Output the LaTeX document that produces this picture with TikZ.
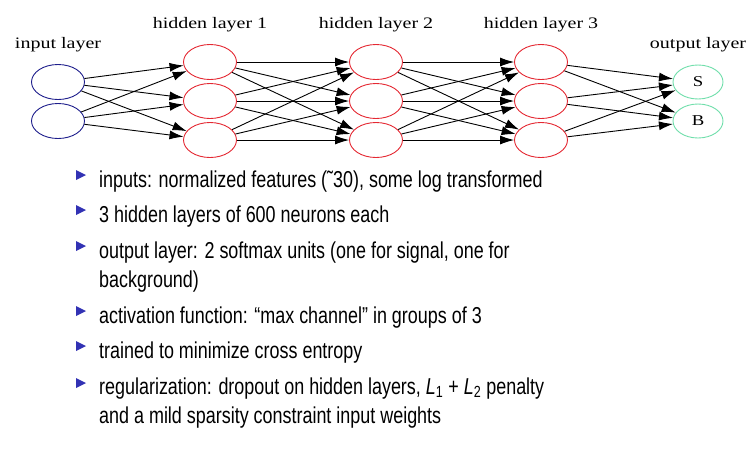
\documentclass[tikz,border=0pt]{standalone}
\usepackage{fontspec}
\setmainfont{Liberation Sans}[FakeStretch=0.78]
\newfontfamily\labelfont{Liberation Serif}[FakeStretch=1.25]
\usetikzlibrary{shapes.geometric,arrows.meta}

\definecolor{inblue}{RGB}{30,30,140}
\definecolor{hidred}{RGB}{228,40,50}
\definecolor{outgreen}{RGB}{110,222,170}
\definecolor{bulletblue}{RGB}{50,50,180}

\tikzset{
  neuron/.style={ellipse,draw,line width=0.9pt,minimum width=53pt,minimum height=35pt,inner sep=0pt,
    font=\labelfont\fontsize{15}{15}\selectfont},
  synapse/.style={-{Latex[length=14pt,width=9pt]},line width=0.9pt},
  layername/.style={font=\labelfont\fontsize{16}{16}\selectfont,anchor=base,inner sep=0pt},
  itemtext/.style={anchor=base west,font=\fontsize{23}{29}\selectfont,inner sep=0pt,align=left}
}

\begin{document}
\begin{tikzpicture}[x=1pt,y=-1pt]
		\useasboundingbox (0,0) rectangle (756,461);
		% layers
		\node[neuron,draw=inblue] (I1) at (58,82) {};
		\node[neuron,draw=inblue] (I2) at (58,121) {};
		\foreach \l/\x in {1/210,2/376,3/541}
		\foreach \n/\y in {1/62,2/101,3/140}
		\node[neuron,draw=hidred] (H\l\n) at (\x,\y) {};
		\node[neuron,draw=outgreen,minimum width=50pt,minimum height=34pt] (O1) at (698,82) {S};
		\node[neuron,draw=outgreen,minimum width=50pt,minimum height=34pt] (O2) at (698,121) {B};

		\node[layername] (Lin) at (58,48) {input layer};
		\node[layername] (Lh1) at (210,28) {hidden layer 1};
		\node[layername] (Lh2) at (376,28) {hidden layer 2};
		\node[layername] (Lh3) at (541,28) {hidden layer 3};
		\node[layername] (Lout) at (698,48) {output layer};

		% connections
		\foreach \i in {1,2}
		\foreach \j in {1,2,3}
		\draw[synapse] (I\i) -- (H1\j);
		\foreach \l/\m in {1/2,2/3}
		\foreach \i in {1,2,3}
		\foreach \j in {1,2,3}
		\draw[synapse] (H\l\i) -- (H\m\j);
		\foreach \i in {1,2,3}
		\foreach \j in {1,2}
		\draw[synapse] (H3\i) -- (O\j);

		% bullet list (two-line items sit on their last baseline)
		\foreach \y in {187,222,258,323,358,395}
		\fill[bulletblue] (76,\y-17) -- (86,\y-12) -- (76,\y-7) -- cycle;
		\node[itemtext] (T1) at (99,187) {inputs: normalized features (˜30), some log transformed};
		\node[itemtext] (T2) at (99,222) {3 hidden layers of 600 neurons each};
		\node[itemtext] (T3) at (99,287) {output layer: 2 softmax units (one for signal, one for\\background)};
		\node[itemtext] (T4) at (99,323) {activation function: “max channel” in groups of 3};
		\node[itemtext] (T5) at (99,358) {trained to minimize cross entropy};
		\node[itemtext] (T6) at (99,423) {regularization: dropout on hidden layers, {\itshape L}\textsubscript{1} + {\itshape L}\textsubscript{2} penalty\\and a mild sparsity constraint input weights};
	    \end{tikzpicture}
\end{document}
